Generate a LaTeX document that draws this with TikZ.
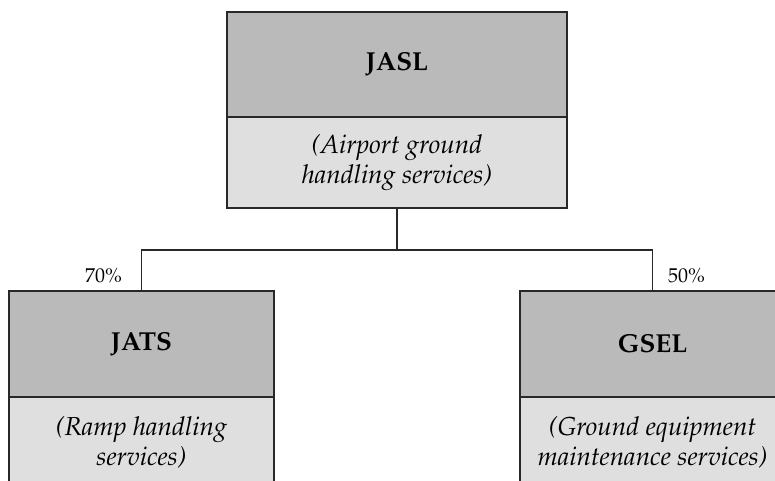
\documentclass[tikz,border=0pt]{standalone}
\usepackage[T1]{fontenc}
\usepackage{mathpazo}
\usetikzlibrary{positioning}

\definecolor{headfill}{RGB}{186,186,186}
\definecolor{subfill}{RGB}{223,223,223}
\definecolor{edge}{RGB}{40,40,40}

\tikzset{
  boxbase/.style={rectangle, draw=edge, line width=1.2pt, inner sep=0pt,
                  align=center, text=black},
  headbox/.style={boxbase, fill=headfill, font=\fontsize{26}{30}\selectfont\bfseries},
  subbox/.style={boxbase, fill=subfill, font=\fontsize{26}{30}\selectfont\itshape},
  link/.style={draw=edge, line width=1.2pt},
  pct/.style={font=\fontsize{20}{24}\selectfont, inner sep=0pt}
}

\begin{document}
\begin{tikzpicture}[x=1pt, y=1pt]
  \useasboundingbox (0,0) rectangle (775,-481);
  \clip (0,0) rectangle (775,-481);

  % parent company
  \node[headbox, minimum width=340, minimum height=105] (jasl) at (397,-64.5) {JASL};
  \node[subbox, minimum width=340, minimum height=91] (jaslsub) at (397,-162.5)
       {(Airport ground\\handling services)};

  % left subsidiary
  \node[headbox, minimum width=265, minimum height=106] (jats) at (141.5,-344) {JATS};
  \node[subbox, minimum width=265, minimum height=91] (jatssub) at (141.5,-442.5)
       {(Ramp handling\\services)};

  % right subsidiary
  \node[headbox, minimum width=265, minimum height=106] (gsel) at (652.5,-344) {GSEL};
  \node[subbox, minimum width=265, minimum height=91] (gselsub) at (652.5,-442.5)
       {(Ground equipment\\maintenance services)};

  % ownership connectors
  \coordinate (split) at (397,-250);
  \draw[link] (jaslsub.south) -- (split);
  \draw[link] (split) -| (jats.north);
  \draw[link] (split) -| (gsel.north);

  % shareholding labels
  \node[pct, anchor=base east] (p70) at (122,-282) {70\%};
  \node[pct, anchor=base west] (p50) at (668,-282) {50\%};
\end{tikzpicture}
\end{document}
